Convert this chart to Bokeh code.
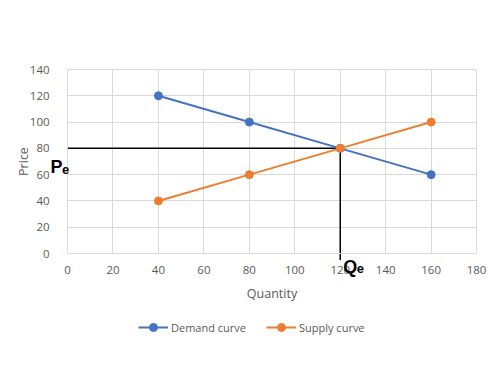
from bokeh.plotting import figure
from bokeh.models import Label, Legend, LegendItem, Range1d, FixedTicker
from bokeh.embed import file_html
from bokeh.resources import INLINE

quantity = [40, 80, 120, 160]
demand = [120, 100, 80, 60]
supply = [40, 60, 80, 100]
eq_q = 120
eq_p = 80
x_ticks = list(range(0, 181, 20))
y_ticks = list(range(0, 141, 20))
x_lim = (0, 180)
y_lim = (0, 140)

blue = "#4472C4"
orange = "#ED7D31"
font = "Open Sans"
sym_font = "Liberation Sans"
grid_col = "#d9d9d9"
text_col = "#595959"

# the frame fills the canvas; axes are pinned at 0 so that the labels
# outside the data area are still inside the frame
p = figure(frame_width=492, frame_height=350, output_backend="svg", toolbar_location=None,
           x_range=Range1d(-29.5, 187.0), y_range=Range1d(-73.8, 192.5),
           min_border=0, background_fill_color="white", border_fill_color="white",
           outline_line_color=None)

for ax in (p.xaxis[0], p.yaxis[0]):
    ax.fixed_location = 0
    ax.major_tick_line_color = None
    ax.minor_tick_line_color = None
    ax.axis_line_color = grid_col
    ax.major_label_text_font = font
    ax.major_label_text_font_size = "11.5px"
    ax.major_label_text_color = text_col
    ax.axis_label_text_font = font
    ax.axis_label_text_font_size = "12.5px"
    ax.axis_label_text_color = text_col
    ax.axis_label_text_font_style = "normal"

p.xaxis.ticker = FixedTicker(ticks=x_ticks)
p.yaxis.ticker = FixedTicker(ticks=y_ticks)
p.xaxis.bounds = x_lim
p.yaxis.bounds = y_lim
p.xaxis.axis_label = "Quantity"
p.yaxis.axis_label = "Price"
p.xaxis.major_label_standoff = 6
p.yaxis.major_label_standoff = 12
p.xaxis.axis_label_standoff = 8
p.yaxis.axis_label_standoff = -5

p.xgrid.cross_bounds = y_lim
p.ygrid.cross_bounds = x_lim
p.grid.grid_line_color = grid_col
p.grid.grid_line_width = 1

# equilibrium guide lines
p.line([0, eq_q], [eq_p, eq_p], line_color="black", line_width=1.5)
p.line([eq_q, eq_q], [eq_p, -5], line_color="black", line_width=1.5)

dl = p.line(quantity, demand, line_color=blue, line_width=2)
ds = p.scatter(quantity, demand, size=8, fill_color=blue, line_color=blue)
sl = p.line(quantity, supply, line_color=orange, line_width=2)
ss = p.scatter(quantity, supply, size=8, fill_color=orange, line_color=orange)

legend = Legend(items=[LegendItem(label="Demand curve", renderers=[dl, ds]),
                       LegendItem(label="Supply curve", renderers=[sl, ss])],
                orientation="horizontal", location=(138, 13),
                label_text_font=font, label_text_font_size="11px", label_text_color=text_col,
                border_line_color=None, background_fill_alpha=0, spacing=20,
                glyph_width=30, label_standoff=3, margin=0, padding=5)
p.add_layout(legend, "center")

def sym(x, y, dx, dy, txt, size):
    return Label(x=x, y=y, x_offset=dx, y_offset=dy, text=txt, text_font=sym_font,
                 text_font_size=size, text_font_style="bold", text_color="black",
                 text_baseline="alphabetic", text_align="left")

p.add_layout(sym(0, eq_p, -17, -19, "P", "18px"))
p.add_layout(sym(0, eq_p, -5.5, -21, "e", "13px"))
p.add_layout(sym(eq_q, 0, 3, -13, "Q", "18px"))
p.add_layout(sym(eq_q, 0, 16.5, -15, "e", "13px"))

open("out.html", "w").write(file_html(p, INLINE))
